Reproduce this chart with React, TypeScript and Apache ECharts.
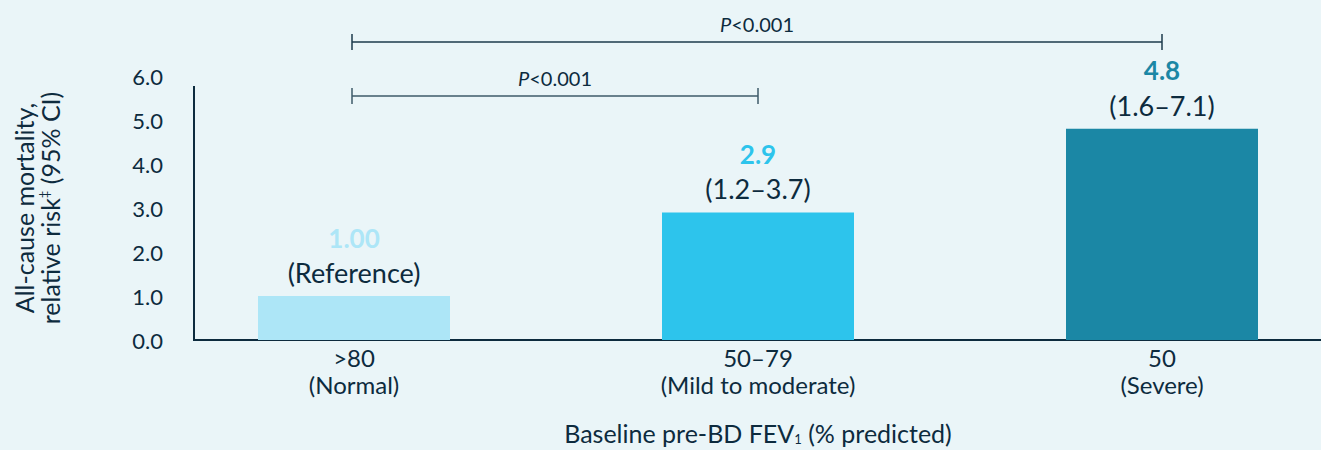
import React, { useEffect, useRef } from "react";
import * as echarts from "echarts";

const categories = [">80\n(Normal)", "50–79\n(Mild to moderate)", "50\n(Severe)"];
const values = [1.0, 2.9, 4.8];
const valueLabels = ["1.00", "2.9", "4.8"];
const ciLabels = ["(Reference)", "(1.2–3.7)", "(1.6–7.1)"];
const barColors = ["#ade6f7", "#2dc4ec", "#1b87a5"];
const yTicks = [0, 1, 2, 3, 4, 5, 6];
const comparisons = [
  { from: 0, to: 2, text: "P<0.001" },
  { from: 0, to: 1, text: "P<0.001" },
];

const FONT = "Lato";
const DARK = "#0d2b3e";
const BG = "#eaf5f8";

export default function App() {
  const ref = useRef<HTMLDivElement>(null);
  useEffect(() => {
    if (!ref.current) return;
    const chart = echarts.init(ref.current, null, { renderer: "svg" });
    const rich: any = {
      ci: { fontSize: 27, color: DARK, fontFamily: FONT, lineHeight: 35 },
    };
    barColors.forEach((c, i) => {
      rich["v" + i] = { fontSize: 26, fontWeight: "bold", color: c, fontFamily: FONT, lineHeight: 35 };
    });
    chart.setOption({
      animation: false,
      backgroundColor: BG,
      textStyle: { fontFamily: FONT },
      grid: { left: 152, right: -43, top: 76, bottom: 110, containLabel: false, outerBoundsMode: "none" },
      xAxis: {
        type: "category",
        data: categories,
        axisLine: { show: false },
        axisTick: { show: false },
        axisLabel: { color: DARK, fontSize: 24, lineHeight: 27, margin: 4, fontFamily: FONT },
        name: "{a|Baseline pre-BD FEV}{s|1}{a| (% predicted)}",
        nameLocation: "middle",
        nameGap: 80,
        nameTextStyle: {
          rich: {
            a: { fontSize: 25, color: DARK, fontFamily: FONT },
            s: { fontSize: 13, color: DARK, fontFamily: FONT, verticalAlign: "bottom", padding: [12, 0, 0, 0] },
          },
        },
      },
      yAxis: {
        type: "value",
        min: yTicks[0],
        max: yTicks[yTicks.length - 1],
        interval: 1,
        offset: -42,
        axisLine: { show: false },
        axisTick: { show: false },
        splitLine: { show: false },
        axisLabel: {
          color: DARK,
          fontSize: 22,
          margin: 31,
          fontFamily: FONT,
          formatter: (v: number) => v.toFixed(1),
        },
        name: "{a|All-cause mortality,}\n{a|relative risk}{s|‡}{a| (95% CI)}",
        nameLocation: "middle",
        nameGap: 131,
        nameRotate: 90,
        nameTextStyle: {
          rich: {
            a: { fontSize: 25, color: DARK, fontFamily: FONT, lineHeight: 26 },
            s: { fontSize: 13, color: DARK, fontFamily: FONT, verticalAlign: "top", lineHeight: 26 },
          },
        },
      },
      series: [
        {
          type: "bar",
          barWidth: 192,
          data: values.map((v, i) => ({ value: v, itemStyle: { color: barColors[i] } })),
          label: {
            show: true,
            position: "top",
            distance: 6,
            formatter: (p: any) => `{v${p.dataIndex}|${valueLabels[p.dataIndex]}}\n{ci|${ciLabels[p.dataIndex]}}`,
            rich,
          },
        },
      ],
    });

    const draw = () => {
      const g: any[] = [];
      const yMaxPx = chart.convertToPixel({ yAxisIndex: 0 }, yTicks[yTicks.length - 1]) as number;
      const y0 = chart.convertToPixel({ yAxisIndex: 0 }, 0) as number;
      const axisX = 194;
      g.push({ type: "line", shape: { x1: axisX, y1: yMaxPx + 10, x2: axisX, y2: y0 }, style: { stroke: DARK, lineWidth: 2 } });
      g.push({ type: "line", shape: { x1: axisX - 1, y1: y0, x2: 1321, y2: y0 }, style: { stroke: DARK, lineWidth: 2 } });
      comparisons.forEach((c, i) => {
        const x1 = (chart.convertToPixel({ xAxisIndex: 0 }, c.from) as number) - 2;
        const x2 = chart.convertToPixel({ xAxisIndex: 0 }, c.to) as number;
        const yy = i === 0 ? yMaxPx - 34 : yMaxPx + 20;
        const stroke = i === 0 ? "#1d3a4c" : "#3e5a6a";
        g.push({ type: "line", shape: { x1, y1: yy, x2, y2: yy }, style: { stroke, lineWidth: 1.5 } });
        g.push({ type: "line", shape: { x1, y1: yy - 8, x2: x1, y2: yy + 8 }, style: { stroke, lineWidth: 1.5 } });
        g.push({ type: "line", shape: { x1: x2, y1: yy - 8, x2: x2, y2: yy + 8 }, style: { stroke, lineWidth: 1.5 } });
        g.push({
          type: "text",
          x: (x1 + x2) / 2,
          y: yy - 18,
          style: {
            text: "{i|P}{n|" + c.text.slice(1) + "}",
            align: "center",
            verticalAlign: "middle",
            rich: {
              i: { fontStyle: "italic", fontSize: 20, fill: DARK, fontFamily: FONT },
              n: { fontSize: 20, fill: DARK, fontFamily: FONT },
            },
          },
        });
      });
      chart.setOption({ graphic: g });
    };
    draw();
    return () => chart.dispose();
  }, []);
  return <div ref={ref} style={{ width: 1321, height: 450, position: "absolute", left: 0, top: 0 }} />;
}
